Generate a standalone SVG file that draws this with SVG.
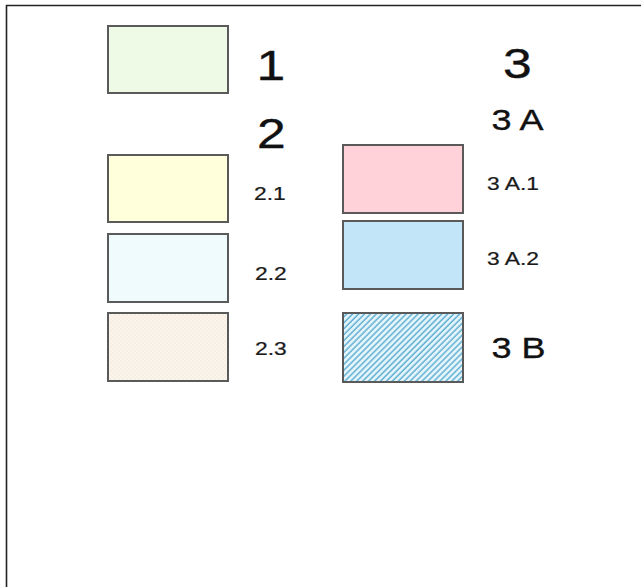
<svg xmlns="http://www.w3.org/2000/svg" width="641" height="587" viewBox="0 0 641 587">
<defs>
<pattern id="dots" width="4" height="4" patternUnits="userSpaceOnUse">
<rect width="4" height="4" fill="#fbf5ec"/>
<circle cx="1" cy="1" r="0.6" fill="#e9dcc9"/>
<circle cx="3" cy="3" r="0.6" fill="#e9dcc9"/>
</pattern>
<pattern id="hatch" width="4.2" height="4.2" patternUnits="userSpaceOnUse" patternTransform="rotate(45)">
<rect width="4.2" height="4.2" fill="#e6f5fb"/>
<line x1="1" y1="0" x2="1" y2="4.2" stroke="#5fb0d2" stroke-width="1.5"/>
</pattern>
</defs>
<style>
.box{stroke:#5a5a5a;stroke-width:2}
text{font-family:"Liberation Sans",Arial,sans-serif;fill:#111;stroke:#111;stroke-width:0.35}
.big{font-size:43px}
.mid{font-size:30px}
.sm{font-size:19px;fill:#1a1a1a;stroke:#1a1a1a;stroke-width:0.25}
.frame{stroke:#222;stroke-width:1.6;fill:none}
</style>
<rect width="641" height="587" fill="#fff"/>
<path class="frame" d="M6.5,587 V5.5 H641"/>
<g id="n1"><rect class="box" x="108" y="26" width="120" height="67" fill="#effae6"/><text class="big" transform="matrix(1.2,0,0,1,256.5,80)">1</text></g>
<g id="n2"><text class="big" transform="matrix(1.2,0,0,1,257,148)">2</text></g>
<g id="n2-1"><rect class="box" x="108" y="155" width="120" height="67" fill="#ffffdc"/><text class="sm" transform="matrix(1.2,0,0,1,254,200)">2.1</text></g>
<g id="n2-2"><rect class="box" x="108" y="234" width="120" height="68" fill="#effbfd"/><text class="sm" transform="matrix(1.2,0,0,1,255,280)">2.2</text></g>
<g id="n2-3"><rect class="box" x="108" y="313" width="120" height="68" fill="url(#dots)"/><text class="sm" transform="matrix(1.2,0,0,1,255,355)">2.3</text></g>
<g id="n3"><text class="big" transform="matrix(1.2,0,0,1,503,78)">3</text></g>
<g id="n3A"><text class="mid" transform="matrix(1.2,0,0,1,491.5,130)">3 A</text></g>
<g id="n3A-1"><rect class="box" x="343" y="145" width="120" height="68" fill="#ffd1d9"/><text class="sm" transform="matrix(1.2,0,0,1,487,190)">3 A.1</text></g>
<g id="n3A-2"><rect class="box" x="343" y="221" width="120" height="68" fill="#c2e6f8"/><text class="sm" transform="matrix(1.2,0,0,1,487,265)">3 A.2</text></g>
<g id="n3B"><rect class="box" x="343" y="313" width="120" height="69" fill="url(#hatch)"/><text class="mid" transform="matrix(1.2,0,0,1,491.5,358)">3 B</text></g>
<g id="connectors"></g>
</svg>
